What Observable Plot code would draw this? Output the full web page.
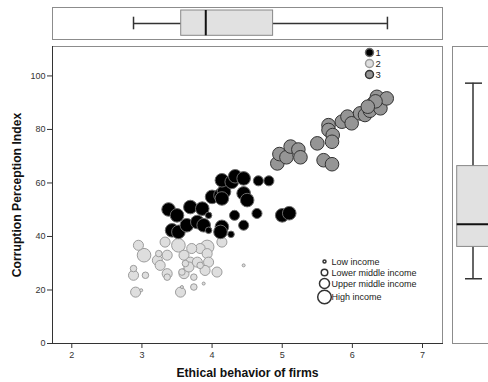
<!DOCTYPE html>
<html><head><meta charset="utf-8">
<script src="https://cdn.jsdelivr.net/npm/d3@7"></script>
<script src="https://cdn.jsdelivr.net/npm/@observablehq/plot@0.6"></script>
<style>
body{margin:0;background:#fff;}
#chart{position:relative;width:488px;height:382px;overflow:hidden;font-family:"Liberation Sans",Arial,sans-serif;}
#chart > div{position:absolute;}
#chart svg{max-width:none;display:block;}
</style></head><body>
<div id="chart"><div id="main" style="left:0;top:0"></div><div id="top" style="left:0;top:0"></div><div id="right" style="left:440px;top:0"></div></div>
<script>
// ---- data ----
const xTicks = [2, 3, 4, 5, 6, 7];
const yTicks = [0, 20, 40, 60, 80, 100];
const xTitle = "Ethical behavior of firms";
const yTitle = "Corruption Perception Index";
// box plot summaries: [min, q1, median, q3, max]
const xBoxStats = [2.88, 3.56, 3.91, 4.87, 6.50];
const yBoxStats = [24.2, 36.1, 44.6, 66.3, 97.3];
const groupLabels = ["1", "2", "3"];
const incomeLevels = [1, 2, 3, 4];
const incomeLabels = ["Low income", "Lower middle income", "Upper middle income", "High income"];
// [ethical behavior, CPI, income level]
const cluster1 = [[3.38,50.1,4],[3.50,47.9,4],[3.43,42.3,4],[3.52,41.7,4],[3.64,44.2,4],[3.69,51.0,4],[3.86,50.4,4],[3.79,45.4,4],[3.88,44.2,4],[3.95,42.3,2],[3.95,47.9,2],[4.00,54.8,4],[4.12,55.4,4],[4.17,56.7,4],[4.14,54.2,4],[4.14,61.0,4],[4.28,60.4,4],[4.33,62.5,4],[4.45,61.7,4],[4.45,56.1,4],[4.50,53.6,4],[4.66,60.8,3],[4.81,60.8,3],[4.32,47.9,3],[4.14,43.6,4],[4.12,41.7,4],[4.27,40.8,2],[4.45,44.2,3],[4.64,48.6,3],[5.00,47.9,4],[5.10,48.7,4]];
const cluster2 = [[2.95,36.7,3],[3.03,33.0,4],[2.88,28.0,2],[2.88,25.5,3],[3.05,25.5,2],[2.91,19.2,3],[2.99,19.9,1],[3.24,33.6,2],[3.22,31.1,3],[3.26,29.2,3],[3.36,33.0,3],[3.36,26.1,3],[3.36,24.8,2],[3.33,37.9,3],[3.52,36.7,4],[3.60,33.0,3],[3.62,29.9,2],[3.57,26.7,2],[3.60,26.1,3],[3.69,30.4,3],[3.67,28.6,3],[3.79,30.4,3],[3.74,24.8,2],[3.74,21.1,2],[3.55,19.2,3],[3.57,21.1,1],[3.83,35.5,3],[3.93,36.1,4],[3.93,33.6,3],[3.95,30.4,3],[3.90,27.3,3],[4.07,26.7,3],[4.14,37.9,3],[3.88,22.4,1],[4.45,29.2,1],[3.71,35.5,3],[3.83,29.2,2]];
const cluster3 = [[4.93,67.3,4],[4.96,70.8,4],[5.06,69.6,4],[5.12,73.6,4],[5.23,72.5,4],[5.26,69.6,4],[5.50,74.8,4],[5.59,68.5,4],[5.71,67.0,4],[5.66,81.6,4],[5.66,79.8,4],[5.72,77.9,4],[5.71,75.4,4],[5.85,82.9,4],[5.93,84.8,4],[5.99,82.3,4],[6.11,86.0,4],[6.18,85.4,4],[6.25,87.0,4],[6.30,89.8,4],[6.35,92.2,4],[6.40,87.9,4],[6.49,91.6,4],[6.33,90.5,4],[6.22,88.5,4]];

// ---- styles ----
const W = 488, H = 382, ML = 52, MR = 46, MT = 46, MB = 39;
const xDomain = [1.725, 7.285], yDomain = [0, 111];
const font = "'Liberation Sans', Arial, sans-serif";
const groupStyle = [
  {fill: "#000000", stroke: "#6a6a6a"},
  {fill: "#dedede", stroke: "#9c9c9c"},
  {fill: "#959595", stroke: "#333333"}
];
const rScale = {type: "linear", domain: [1, 4], range: [1.5, 6.8]};
const clusters = [cluster2, cluster1, cluster3];
const clusterStyleIdx = [1, 0, 2];

const dotMarks = clusters.map((c, i) => Plot.dot(c, {
  x: d => d[0], y: d => d[1], r: d => d[2],
  fill: groupStyle[clusterStyleIdx[i]].fill, stroke: groupStyle[clusterStyleIdx[i]].stroke, strokeWidth: 1
}));

const groupLegend = groupLabels.flatMap((g, i) => [
  Plot.dot([g], {frameAnchor: "top-left", dx: 317, dy: 6 + i * 11, r: 4, fill: groupStyle[i].fill, stroke: groupStyle[i].stroke}),
  Plot.text([g], {frameAnchor: "top-left", dx: 323, dy: 6.5 + i * 11, text: d => d, textAnchor: "start", lineAnchor: "middle", fontSize: 9.5, fill: "#222"})
]);
const sizeLegendY = [215, 226, 237, 250.5];
const sizeLegend = incomeLevels.flatMap((lv, i) => [
  Plot.dot([lv], {frameAnchor: "top-left", dx: 272, dy: sizeLegendY[i], r: d => d, fill: "white", stroke: "#333"}),
  Plot.text([incomeLabels[i]], {frameAnchor: "top-left", dx: 279, dy: sizeLegendY[i] + 0.5, text: d => d, textAnchor: "start", lineAnchor: "middle", fontSize: 9, fill: "#222"})
]);

const main = Plot.plot({
  width: W, height: H, marginLeft: ML, marginRight: MR, marginTop: MT, marginBottom: MB,
  style: {fontFamily: font, fontSize: "9px", color: "#333", background: "transparent"},
  x: {domain: xDomain}, y: {domain: yDomain}, r: rScale,
  marks: [
    Plot.frame({stroke: "#8c8c8c"}),
    Plot.axisX(xTicks, {tickSize: 5, tickPadding: 3, label: null, fontSize: 9, stroke: "#333", fill: "#333"}),
    Plot.axisY(yTicks, {tickSize: 5, tickPadding: 2, label: null, fontSize: 9, stroke: "#333", fill: "#333"}),
    Plot.frame({anchor: "left", stroke: "#333"}),
    Plot.frame({anchor: "bottom", stroke: "#333"}),
    ...dotMarks,
    ...groupLegend,
    ...sizeLegend,
    Plot.text([xTitle], {frameAnchor: "bottom", dy: 30, text: d => d, lineAnchor: "middle", fontWeight: "bold", fontSize: 12.2, fill: "#111"}),
    Plot.text([yTitle], {frameAnchor: "left", dx: -35, dy: 0, rotate: -90, text: d => d, textAnchor: "middle", lineAnchor: "middle", fontWeight: "bold", fontSize: 12.2, fill: "#111"})
  ]
});
document.getElementById("main").append(main);

const xStat = {min: xBoxStats[0], q1: xBoxStats[1], med: xBoxStats[2], q3: xBoxStats[3], max: xBoxStats[4]};
const topBox = Plot.plot({
  width: W, height: 46, marginLeft: ML, marginRight: MR, marginTop: 7, marginBottom: 7,
  style: {background: "transparent"},
  x: {domain: xDomain, axis: null}, y: {domain: ["box"], axis: null, padding: 0},
  marks: [
    Plot.frame({stroke: "#8c8c8c"}),
    Plot.ruleY([xStat], {y: () => "box", x1: "min", x2: "max", stroke: "#333", strokeWidth: 1.5}),
    Plot.tickX([xStat.min, xStat.max], {x: d => d, y: () => "box", insetTop: 9.7, insetBottom: 9.7, stroke: "#333", strokeWidth: 1.5}),
    Plot.barX([xStat], {x1: "q1", x2: "q3", y: () => "box", insetTop: 3, insetBottom: 3.7, fill: "#e1e1e1", stroke: "#888"}),
    Plot.tickX([xStat], {x: "med", y: () => "box", insetTop: 3, insetBottom: 3.7, stroke: "#111", strokeWidth: 2})
  ]
});
document.getElementById("top").append(topBox);

const yStat = {min: yBoxStats[0], q1: yBoxStats[1], med: yBoxStats[2], q3: yBoxStats[3], max: yBoxStats[4]};
const rightBox = Plot.plot({
  width: 53, height: H, marginLeft: 12, marginRight: 0, marginTop: MT, marginBottom: MB,
  style: {background: "transparent"},
  y: {domain: yDomain, axis: null}, x: {domain: ["box"], axis: null, padding: 0},
  marks: [
    Plot.frame({stroke: "#8c8c8c"}),
    Plot.ruleX([yStat], {x: () => "box", y1: "min", y2: "max", stroke: "#333", strokeWidth: 1.5}),
    Plot.tickY([yStat.min, yStat.max], {y: d => d, x: () => "box", insetLeft: 13, insetRight: 11, stroke: "#333", strokeWidth: 1.5}),
    Plot.barY([yStat], {y1: "q1", y2: "q3", x: () => "box", insetLeft: 4.7, insetRight: 4.3, fill: "#e1e1e1", stroke: "#888"}),
    Plot.tickY([yStat], {y: "med", x: () => "box", insetLeft: 4.7, insetRight: 4.3, stroke: "#111", strokeWidth: 2})
  ]
});
document.getElementById("right").append(rightBox);
</script>
</body></html>
